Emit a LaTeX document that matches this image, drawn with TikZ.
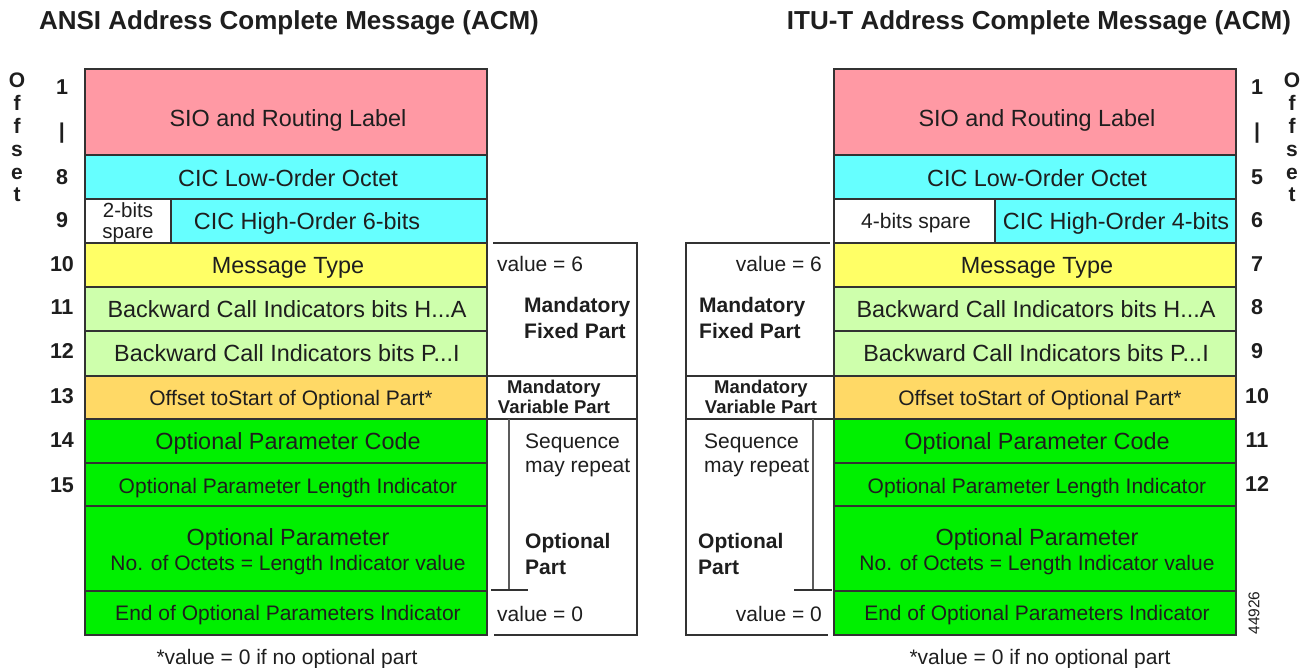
\documentclass[tikz,border=0pt]{standalone}
\usepackage{fontspec}
\setmainfont{Liberation Sans}
\definecolor{ink}{RGB}{30,30,30}
\definecolor{frame}{RGB}{50,50,50}
\definecolor{siofill}{RGB}{255,153,164}
\definecolor{cicfill}{RGB}{102,255,255}
\definecolor{msgfill}{RGB}{255,255,102}
\definecolor{bcifill}{RGB}{206,255,172}
\definecolor{offfill}{RGB}{255,217,102}
\definecolor{optfill}{RGB}{0,240,0}
\tikzset{
  cellframe/.style={draw=frame, line width=1.2pt},
  rule/.style={draw=frame, line width=1.2pt},
  txt/.style={inner sep=0pt, text=ink, font=\fontsize{23.4}{27}\selectfont},
  celltxt/.style={txt, text height=16.8pt, text depth=0pt},
  smalltxt/.style={txt, font=\fontsize{21}{26}\selectfont, text height=15pt, text depth=0pt},
  sidetxt/.style={txt, font=\fontsize{21}{24}\selectfont},
  notetxt/.style={sidetxt, text height=15pt, text depth=0pt},
  sidebold/.style={txt, font=\bfseries\fontsize{21}{26}\selectfont},
  varbold/.style={txt, font=\bfseries\fontsize{18.5}{19.5}\selectfont},
  numtxt/.style={txt, font=\bfseries\fontsize{21.5}{24}\selectfont},
  titletxt/.style={txt, font=\bfseries\fontsize{26}{30}\selectfont},
}
% one coloured field of a message layout: x1, y1, x2, y2, fill
\newcommand\field[5]{\filldraw[cellframe, fill=#5] (#1,#2) rectangle (#3,#4);}
\begin{document}
\begin{tikzpicture}[x=1pt, y=-1pt]
\useasboundingbox (0,0) rectangle (1305,668);

% ---------------- ANSI layout ----------------
\node[titletxt] (L-title) at (289,23) {ANSI Address Complete Message (ACM)};

\field{85}{69}{487}{155}{siofill}
\field{85}{155}{487}{199}{cicfill}
\field{85}{199}{171}{243}{white}
\field{171}{199}{487}{243}{cicfill}
\field{85}{243}{487}{287}{msgfill}
\field{85}{287}{487}{331}{bcifill}
\field{85}{331}{487}{376}{bcifill}
\field{85}{376}{487}{419}{offfill}
\field{85}{419}{487}{463}{optfill}
\field{85}{463}{487}{506}{optfill}
\field{85}{506}{487}{591}{optfill}
\field{85}{591}{487}{635}{optfill}

\node[celltxt] (L-sio) at (288,118) {SIO and Routing Label};
\node[celltxt] (L-ciclo) at (288,178) {CIC Low-Order Octet};
\node[txt, align=center, text depth=0pt, font=\fontsize{20.5}{21}\selectfont] (L-spare) at (128,221) {2-bits\\spare};
\node[celltxt] (L-cichi) at (307,221) {CIC High-Order 6-bits};
\node[celltxt] (L-msg) at (288,265) {Message Type};
\node[celltxt] (L-bcih) at (287,309) {Backward Call Indicators bits H...A};
\node[celltxt] (L-bcip) at (287,353) {Backward Call Indicators bits P...I};
\node[smalltxt] (L-off) at (291,398) {Offset toStart of Optional Part*};
\node[celltxt] (L-opc) at (288,441) {Optional Parameter Code};
\node[smalltxt] (L-opli) at (288,486) {Optional Parameter Length Indicator};
\node[celltxt] (L-op1) at (288,537) {Optional Parameter};
\node[smalltxt] (L-op2) at (288,563) {No. of Octets = Length Indicator value};
\node[smalltxt] (L-end) at (288,613) {End of Optional Parameters Indicator};

% offset column
\node[txt, align=center, anchor=north, font=\bfseries\fontsize{21}{22.8}\selectfont] (L-offset) at (17,73) {O\\f\\f\\s\\e\\t};
\foreach \n/\y [count=\i] in {1/87,|/133,8/177,9/220,10/264,11/307,12/351,13/396,14/440,15/485}
  \node[numtxt] (L-num\i) at (62,\y) {\n};

% part brackets
\draw[rule] (493,243) -- (637,243) -- (637,636);
\draw[rule] (487,376) -- (637,376);
\draw[rule] (487,419) -- (637,419);
\draw[rule, draw=frame!80] (509,419) -- (509,590);
\draw[rule] (491,590) -- (528,590);
\draw[rule] (494,635) -- (637,635);

\node[sidetxt, anchor=west] (L-v6) at (497,264) {value = 6};
\node[sidebold, anchor=west, align=left] (L-mfp) at (524,318) {Mandatory\\Fixed Part};
\node[varbold, align=center] (L-mvp) at (554,397) {Mandatory\\Variable Part};
\node[sidetxt, anchor=west, align=left] (L-seq) at (525,455) {Sequence\\may repeat};
\node[sidebold, anchor=west, align=left] (L-opt) at (525,554) {Optional\\Part};
\node[sidetxt, anchor=west] (L-v0) at (497,614) {value = 0};

\node[notetxt] (L-note) at (287,657) {*value = 0 if no optional part};

% ---------------- ITU-T layout ----------------
\node[titletxt] (R-title) at (1039,23) {ITU-T Address Complete Message (ACM)};

\field{834}{69}{1236}{155}{siofill}
\field{834}{155}{1236}{199}{cicfill}
\field{834}{199}{995}{243}{white}
\field{995}{199}{1236}{243}{cicfill}
\field{834}{243}{1236}{287}{msgfill}
\field{834}{287}{1236}{331}{bcifill}
\field{834}{331}{1236}{376}{bcifill}
\field{834}{376}{1236}{419}{offfill}
\field{834}{419}{1236}{463}{optfill}
\field{834}{463}{1236}{506}{optfill}
\field{834}{506}{1236}{591}{optfill}
\field{834}{591}{1236}{635}{optfill}

\node[celltxt] (R-sio) at (1037,118) {SIO and Routing Label};
\node[celltxt] (R-ciclo) at (1037,178) {CIC Low-Order Octet};
\node[smalltxt] (R-spare) at (916,221) {4-bits spare};
\node[celltxt] (R-cichi) at (1116,221) {CIC High-Order 4-bits};
\node[celltxt] (R-msg) at (1037,265) {Message Type};
\node[celltxt] (R-bcih) at (1036,309) {Backward Call Indicators bits H...A};
\node[celltxt] (R-bcip) at (1036,353) {Backward Call Indicators bits P...I};
\node[smalltxt] (R-off) at (1040,398) {Offset toStart of Optional Part*};
\node[celltxt] (R-opc) at (1037,441) {Optional Parameter Code};
\node[smalltxt] (R-opli) at (1037,486) {Optional Parameter Length Indicator};
\node[celltxt] (R-op1) at (1037,537) {Optional Parameter};
\node[smalltxt] (R-op2) at (1037,563) {No. of Octets = Length Indicator value};
\node[smalltxt] (R-end) at (1037,613) {End of Optional Parameters Indicator};

\node[txt, align=center, anchor=north, font=\bfseries\fontsize{21}{22.8}\selectfont] (R-offset) at (1292,73) {O\\f\\f\\s\\e\\t};
\foreach \n/\y [count=\i] in {1/87,|/133,5/177,6/220,7/264,8/307,9/351,10/396,11/440,12/484}
  \node[numtxt] (R-num\i) at (1257,\y) {\n};

\draw[rule] (830,243) -- (686,243) -- (686,636);
\draw[rule] (686,376) -- (834,376);
\draw[rule] (686,419) -- (834,419);
\draw[rule, draw=frame!80] (813,419) -- (813,590);
\draw[rule] (794,590) -- (832,590);
\draw[rule] (686,635) -- (828,635);

\node[sidetxt, anchor=east] (R-v6) at (822,264) {value = 6};
\node[sidebold, anchor=west, align=left] (R-mfp) at (699,318) {Mandatory\\Fixed Part};
\node[varbold, align=center] (R-mvp) at (761,397) {Mandatory\\Variable Part};
\node[sidetxt, anchor=west, align=left] (R-seq) at (704,455) {Sequence\\may repeat};
\node[sidebold, anchor=west, align=left] (R-opt) at (698,554) {Optional\\Part};
\node[sidetxt, anchor=east] (R-v0) at (822,614) {value = 0};

\node[notetxt] (R-note) at (1040,657) {*value = 0 if no optional part};

\node[txt, rotate=90, font=\fontsize{15.5}{16}\selectfont] (figno) at (1254,613) {44926};
\end{tikzpicture}
\end{document}
